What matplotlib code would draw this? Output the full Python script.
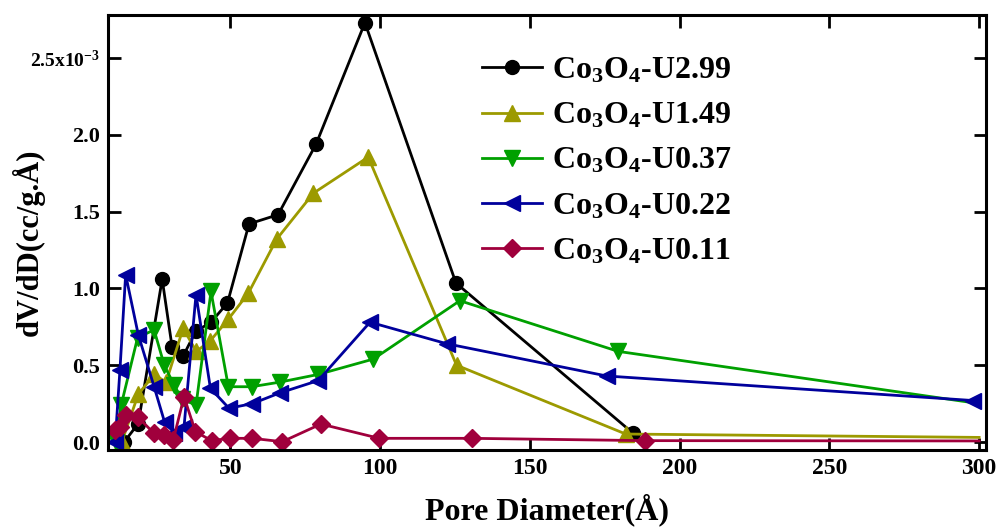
import matplotlib
matplotlib.use("Agg")
import matplotlib.pyplot as plt

plt.rcParams['font.family'] = ['Liberation Serif', 'DejaVu Serif']
plt.rcParams['font.weight'] = 'bold'
plt.rcParams['mathtext.fontset'] = 'custom'
plt.rcParams['mathtext.rm'] = 'Liberation Serif:bold'
plt.rcParams['mathtext.it'] = 'Liberation Serif:bold:italic'
plt.rcParams['mathtext.bf'] = 'Liberation Serif:bold'
plt.rcParams['mathtext.default'] = 'rm'

# ---- data (dV/dD in units of 1e-3 cc/g.A) ----
x_u299 = [14.5, 19.2, 27.2, 30.5, 34.2, 38.4, 43.5, 49.0, 56.2, 65.9, 78.6, 94.9, 125.3, 184.5]
y_u299 = [0.0, 0.12, 1.06, 0.62, 0.56, 0.72, 0.78, 0.905, 1.42, 1.48, 1.94, 2.73, 1.035, 0.056]

x_u149 = [13.7, 19.2, 24.5, 28.5, 34.2, 38.6, 43.3, 49.3, 56.0, 65.4, 77.7, 96.0, 125.5, 182.0, 300.0]
y_u149 = [0.0, 0.31, 0.44, 0.39, 0.74, 0.59, 0.66, 0.80, 0.97, 1.32, 1.62, 1.855, 0.50, 0.052, 0.03]

x_u037 = [11.8, 13.5, 19.0, 24.5, 27.9, 31.2, 33.8, 38.5, 43.5, 49.3, 57.1, 66.5, 79.3, 97.7, 126.6, 179.5, 300.0]
y_u037 = [0.0, 0.24, 0.68, 0.73, 0.50, 0.37, 0.28, 0.24, 0.98, 0.36, 0.36, 0.39, 0.44, 0.54, 0.92, 0.59, 0.25]

x_u022 = [11.5, 13.1, 15.0, 19.2, 24.5, 28.0, 31.2, 34.5, 38.5, 43.3, 49.5, 57.3, 66.5, 79.3, 96.6, 122.2, 175.6, 298.0]
y_u022 = [0.0, 0.47, 1.09, 0.70, 0.36, 0.13, 0.06, 0.10, 0.96, 0.35, 0.22, 0.25, 0.32, 0.40, 0.78, 0.64, 0.43, 0.27]

x_u011 = [11.3, 13.0, 15.0, 19.2, 24.5, 27.9, 30.9, 34.5, 38.3, 43.7, 49.8, 57.3, 67.3, 80.2, 99.7, 130.6, 188.4, 300.0]
y_u011 = [0.08, 0.10, 0.175, 0.16, 0.056, 0.046, 0.013, 0.295, 0.067, 0.009, 0.024, 0.024, 0.002, 0.117, 0.024, 0.024, 0.009, 0.007]

labels = ['Co$_3$O$_4$-U2.99', 'Co$_3$O$_4$-U1.49', 'Co$_3$O$_4$-U0.37',
          'Co$_3$O$_4$-U0.22', 'Co$_3$O$_4$-U0.11']

xticks = [50, 100, 150, 200, 250, 300]
yticks = [0.0, 0.5, 1.0, 1.5, 2.0, 2.5]
yticklabels = ['0.0', '0.5', '1.0', '1.5', '2.0', '2.5x10$^{-3}$']

fig = plt.figure(figsize=(9.97, 5.27), dpi=100)
ax = fig.add_axes([0.1083, 0.1461, 0.8807, 0.8254])

lw = 2.0
ax.plot(x_u299, y_u299, color='black', lw=lw, marker='o', ms=10, label=labels[0])
ax.plot(x_u149, y_u149, color='#9c9a00', lw=lw, marker='^', ms=11,
        markevery=list(range(len(x_u149) - 1)), label=labels[1])
ax.plot(x_u037, y_u037, color='#00a000', lw=lw, marker='v', ms=11,
        markevery=list(range(len(x_u037) - 1)), label=labels[2])
ax.plot(x_u022, y_u022, color='#00009c', lw=lw, marker='<', ms=11, label=labels[3])
ax.plot(x_u011, y_u011, color='#a0003c', lw=lw, marker='D', ms=9,
        markevery=list(range(len(x_u011) - 1)), label=labels[4])

ax.set_xlim(9.1, 302.3)
ax.set_ylim(-0.052, 2.78)
ax.set_xticks(xticks)
ax.set_xticklabels([str(t) for t in xticks], fontsize=17, fontweight='bold')
ax.set_yticks(yticks)
ax.set_yticklabels(yticklabels, fontsize=16, fontweight='bold')
for lab in ax.get_yticklabels()[-1:]:
    lab.set_fontsize(14)

ax.tick_params(direction='in', length=9, width=2, top=True, right=True, pad=6)
for s in ax.spines.values():
    s.set_linewidth(2.2)

ax.set_xlabel('Pore Diameter(Å)', fontsize=23, fontweight='bold', labelpad=10)
ax.set_ylabel('dV/dD(cc/g.Å)', fontsize=22, fontweight='bold')
ax.yaxis.set_label_coords(-0.072, 0.478)

leg = ax.legend(loc='upper left', bbox_to_anchor=(0.411, 0.935), frameon=False,
                fontsize=23, handlelength=1.9, handletextpad=0.3, labelspacing=0.49,
                borderaxespad=0)
for t in leg.get_texts():
    t.set_fontweight('bold')

fig.savefig('out.png', dpi=100)
